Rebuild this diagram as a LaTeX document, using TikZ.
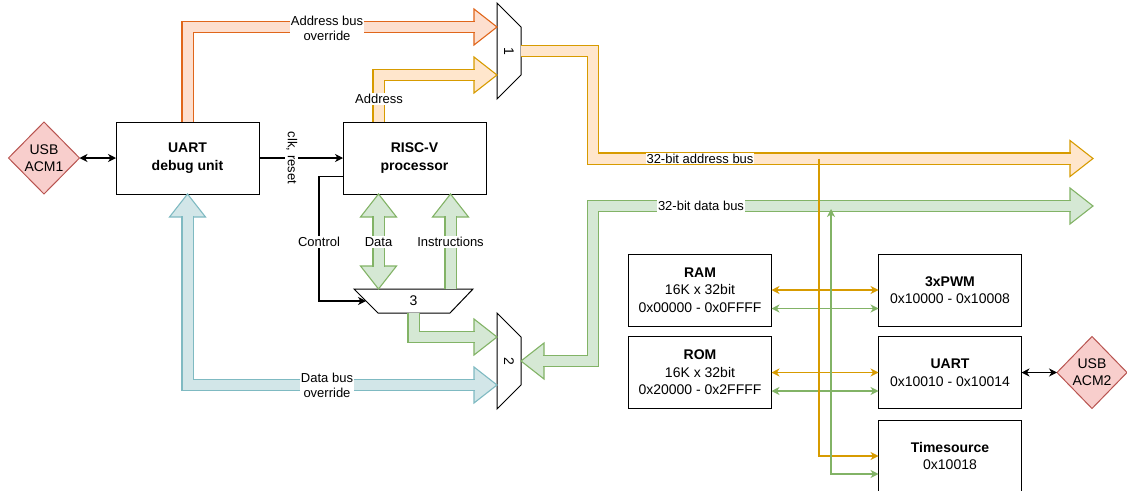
\documentclass[tikz,border=0pt]{standalone}
\usepackage{fontspec}
\setmainfont{Liberation Sans}
\usetikzlibrary{arrows.meta,shapes.geometric}

\definecolor{addrfill}{HTML}{FFE6CC}
\definecolor{addrline}{HTML}{D79B00}
\definecolor{ovrfill}{HTML}{FDDFCF}
\definecolor{ovrline}{HTML}{E0661B}
\definecolor{datafill}{HTML}{D5E8D4}
\definecolor{dataline}{HTML}{82B366}
\definecolor{dbgfill}{HTML}{D2E6E8}
\definecolor{dbgline}{HTML}{7FBAC2}
\definecolor{usbfill}{HTML}{F8CECC}
\definecolor{usbline}{HTML}{B85450}

% head of a fat bus arrow: style, tip, direction
\newcommand{\bushead}[3]{\filldraw[#1, shift={(#2)}, rotate=#3] (0,0) -- (-23,18) -- (-23,-18) -- cycle;}

\begin{document}
\begin{tikzpicture}[x=1pt, y=-1pt, >={Stealth[length=8pt,width=8pt,inset=2.5pt]},
    block/.style={draw, line width=1pt, minimum width=143, minimum height=72, inner sep=0,
                  outer sep=0, align=center, font=\fontsize{14}{17.5}\selectfont},
    usb/.style={diamond, draw=usbline, fill=usbfill, line width=1pt, minimum width=71,
                minimum height=72, inner sep=0, outer sep=0, align=center,
                font=\fontsize{14}{17}\selectfont},
    mux/.style={draw, line width=1pt, line join=miter},
    mux label/.style={font=\fontsize{14}{17}\selectfont, inner sep=0},
    bus label/.style={fill=white, inner sep=1pt, align=center, font=\fontsize{13}{15}\selectfont},
    fat bus/.style={line width=1.1pt, double distance=10pt, line join=miter},
    ovr bus/.style={fat bus, draw=ovrline, double=ovrfill},
    addr bus/.style={fat bus, draw=addrline, double=addrfill},
    data bus/.style={fat bus, draw=dataline, double=datafill},
    dbg bus/.style={fat bus, draw=dbgline, double=dbgfill},
    fat head/.style={line width=1.1pt, line join=miter},
    ovr head/.style={fat head, draw=ovrline, fill=ovrfill},
    addr head/.style={fat head, draw=addrline, fill=addrfill},
    data head/.style={fat head, draw=dataline, fill=datafill},
    dbg head/.style={fat head, draw=dbgline, fill=dbgfill},
    thin wire/.style={line width=1.1pt},
    blk wire/.style={thin wire, draw=black},
    addr wire/.style={thin wire, draw=addrline},
    data wire/.style={thin wire, draw=dataline}]

  \useasboundingbox (0,0) rectangle (1127,490);

  % left half
  \node[usb] (usb1) at (44,158) {USB\\ACM1};
  \node[block] (dbg) at (187.5,158) {\textbf{UART}\\\textbf{debug unit}};
  \node[block] (cpu) at (414.5,158) {\textbf{RISC-V}\\\textbf{processor}};

  \node[mux label, rotate=-90] (mux1) at (509,51) {1};
  \node[mux label, rotate=-90] (mux2) at (509,361) {2};
  \node[mux label] (mux3) at (413.5,301) {3};
  \draw[mux, shift={(mux1.center)}] (-12,-48) -- (12,-24) -- (12,24) -- (-12,48) -- cycle;
  \draw[mux, shift={(mux2.center)}] (-12,-48) -- (12,-24) -- (12,24) -- (-12,48) -- cycle;
  \draw[mux, shift={(mux3.center)}] (-59.5,-12) -- (59.5,-12) -- (36.5,12) -- (-35.5,12) -- cycle;

  % right half
  \node[block] (ram) at (700,290) {\textbf{RAM}\\16K x 32bit\\0x00000 - 0x0FFFF};
  \node[block] (rom) at (700,372.5) {\textbf{ROM}\\16K x 32bit\\0x20000 - 0x2FFFF};
  \node[block] (pwm) at (950,290) {\textbf{3xPWM}\\0x10000 - 0x10008};
  \node[block] (uartp) at (950,372.5) {\textbf{UART}\\0x10010 - 0x10014};
  \node[block] (tsrc) at (950,456) {\textbf{Timesource}\\0x10018};
  \node[usb, minimum width=70] (usb2) at (1092,372.5) {USB\\ACM2};

  % bus end points
  \coordinate (ovrtip) at ([xshift=-12pt,yshift=24pt]mux1.center);
  \coordinate (addrtip) at ([xshift=-12pt,yshift=-24pt]mux1.center);
  \coordinate (mux1out) at ([xshift=12pt]mux1.center);
  \coordinate (abusbend) at (593,158.5);
  \coordinate (abustip) at (1093,158.5);
  \coordinate (mux2in) at ([xshift=12pt]mux2.center);
  \coordinate (dbusbend) at (593,206);
  \coordinate (dbustip) at (1093,206);
  \coordinate (m3tip) at ([xshift=-12pt,yshift=24pt]mux2.center);
  \coordinate (dovrtip) at ([xshift=-12pt,yshift=-24pt]mux2.center);
  \coordinate (mux3top) at ([yshift=12pt]mux3.center);
  \coordinate (mux3out) at ([yshift=-12pt]mux3.center);
  \coordinate (ctrlin) at ([xshift=-47.5pt]mux3.center);
  \coordinate (dtop) at ([xshift=-36pt]cpu.south);
  \coordinate (dbot) at (dtop |- mux3top);
  \coordinate (itop) at ([xshift=36pt]cpu.south);
  \coordinate (ibot) at (itop |- mux3top);
  \coordinate (atap) at (819,158.5);
  \coordinate (dtap) at (831,209);

  % fat buses
  \bushead{ovr head}{ovrtip}{0}
  \draw[ovr bus] (dbg.north) |- ([xshift=-21.8pt]ovrtip);
  \bushead{addr head}{addrtip}{0}
  \draw[addr bus] ([xshift=-36pt]cpu.north) |- ([xshift=-21.8pt]addrtip);
  \bushead{addr head}{abustip}{0}
  \draw[addr bus] (mux1out) -| (abusbend) -- ([xshift=-21.8pt]abustip);
  \bushead{data head}{dbustip}{0}
  \bushead{data head}{mux2in}{180}
  \draw[data bus] ([xshift=21.8pt]mux2in) -| (dbusbend) -- ([xshift=-21.8pt]dbustip);
  \bushead{dbg head}{dbg.south}{90}
  \bushead{dbg head}{dovrtip}{0}
  \draw[dbg bus] ([yshift=-21.8pt]dbg.south) |- ([xshift=-21.8pt]dovrtip);
  \bushead{data head}{dtop}{90}
  \bushead{data head}{dbot}{-90}
  \draw[data bus] ([yshift=-21.8pt]dtop) -- ([yshift=21.8pt]dbot);
  \bushead{data head}{itop}{90}
  \draw[data bus] (ibot) -- ([yshift=-21.8pt]itop);
  \bushead{data head}{m3tip}{0}
  \draw[data bus] (mux3out) |- ([xshift=-21.8pt]m3tip);

  \node[bus label] (ovrlbl) at (327,28) {Address bus\\override};
  \node[bus label] (addrlbl) at (379,99) {Address};
  \node[bus label] (abuslbl) at (700,158.5) {32-bit address bus};
  \node[bus label] (dbuslbl) at (701,206) {32-bit data bus};
  \node[bus label] (dovrlbl) at (327,385) {Data bus\\override};
  \node[bus label] (datalbl) at (378.5,242) {Data};
  \node[bus label] (instrlbl) at (450.5,242) {Instructions};

  % thin connectors
  \path (usb1) edge[blk wire, <->] (dbg)
        (dbg) edge[blk wire, ->] node[bus label, rotate=-90, pos=0.39] (clklbl) {clk, reset} (cpu)
        (uartp) edge[blk wire, <->] (usb2);
  \draw[blk wire, ->] ([yshift=-18.5pt]cpu.west) -- ++(-24,0) |- (ctrlin);
  \node[bus label] (ctrllbl) at (319,242) {Control};

  \path (ram) edge[addr wire, <->] (pwm)
        (rom) edge[addr wire, <->] (uartp);
  \draw[data wire, <->] ([yshift=-18.5pt]ram.east) -- ([yshift=-18.5pt]pwm.west);
  \draw[data wire, <->] ([yshift=-18.5pt]rom.east) -- ([yshift=-18.5pt]uartp.west);
  \draw[addr wire, ->] (atap) |- (tsrc.west);
  \draw[data wire, <->] ([yshift=-18pt]tsrc.west) -| (dtap);
\end{tikzpicture}
\end{document}
